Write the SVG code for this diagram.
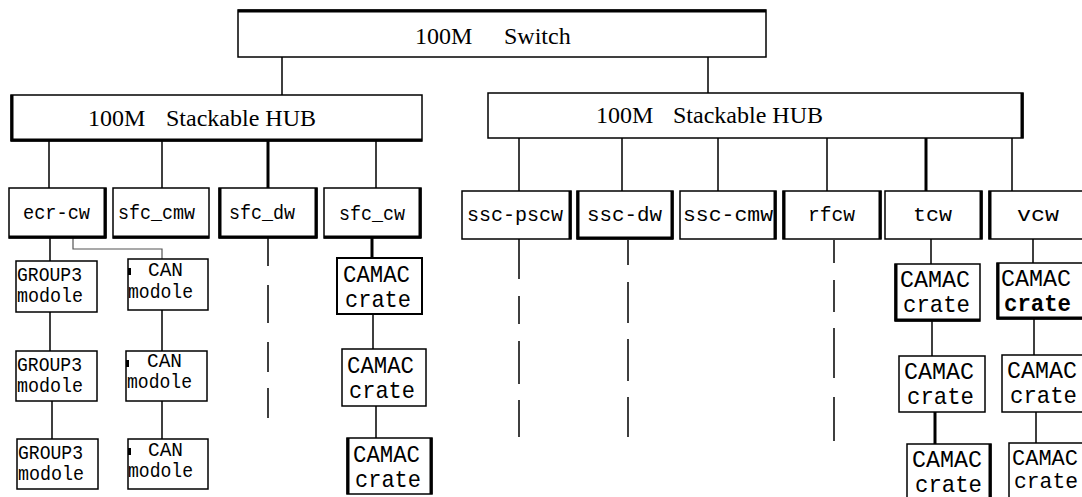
<svg xmlns="http://www.w3.org/2000/svg" width="1082" height="497" viewBox="0 0 1082 497">
  <style>
    .box{fill:#fff;stroke:#000;stroke-width:1.5}
    .boxb{fill:#fff;stroke:#000;stroke-width:2}
    .edge{fill:none;stroke:#000;stroke-width:3}
    .ln{fill:none;stroke:#000;stroke-width:1.5}
    .lnb{fill:none;stroke:#000;stroke-width:3}
    .lng{fill:none;stroke:#555;stroke-width:1.2}
    .serif{font-family:"Liberation Serif","Times New Roman",serif;font-size:24px;fill:#000}
    .mono{font-family:"Liberation Mono","Courier New",monospace;font-size:21px;fill:#000}
    .crate{font-family:"Liberation Mono","Courier New",monospace;font-size:24px;fill:#000}
    .crate-sm{font-family:"Liberation Mono","Courier New",monospace;font-size:22px;fill:#000}
  </style>

  <!-- wiring between devices -->
  <g id="connectors">
    <path class="ln" d="M282,57 V95 M708,55 V93"/>
    <path class="ln" d="M49,141 V188 M162,141 V188 M376,141 V188"/>
    <path class="lnb" d="M268,141 V188"/>
    <path class="ln" d="M519,138 V191 M622,138 V191 M718,138 V191 M827,138 V191 M1012,138 V191"/>
    <path class="lnb" d="M926,138 V191"/>
    <!-- ecr-cw chains -->
    <path class="ln" d="M50,238 V261 M50,312 V351 M52,401 V439"/>
    <path class="lng" d="M73,238 V249 H162 V259"/>
    <path class="ln" d="M162,310 V351 M162,401 V439"/>
    <!-- sfc_dw (dashed) -->
    <path class="ln" d="M268,238 V266 M268,285 V323 M268,342 V372 M268,388 V418"/>
    <!-- sfc_cw crates -->
    <path class="lnb" d="M372,238 V258"/>
    <path class="ln" d="M373,314 V349 M376,406 V438"/>
    <!-- right side dashed drops -->
    <path class="ln" d="M519,239 V279 M519,296 V324 M519,341 V384 M519,400 V437"/>
    <path class="ln" d="M628,240 V265 M628,282 V323 M628,339 V381 M628,397 V437"/>
    <path class="ln" d="M834,240 V263 M834,280 V312 M834,328 V378 M834,397 V441"/>
    <!-- tcw / vcw crates -->
    <path class="ln" d="M931,239 V264 M932,321 V356"/>
    <path class="lnb" d="M935,412 V444"/>
    <path class="ln" d="M1033,239 V263 M1034,319 V355 M1036,412 V443"/>
  </g>

  <!-- core switch -->
  <g id="switch">
    <rect class="box" x="238" y="10" width="528" height="47"/>
    <path class="edge" d="M238,11 H766"/>
    <text class="serif" y="44"><tspan x="415">100M</tspan> <tspan x="504">Switch</tspan></text>
  </g>

  <!-- stackable hubs -->
  <g id="hub-left">
    <rect class="box" x="11" y="95" width="411" height="46"/>
    <path class="edge" d="M12,95 V141 M11,140 H422"/>
    <text class="serif" y="126"><tspan x="88">100M</tspan> <tspan x="166">Stackable HUB</tspan></text>
  </g>
  <g id="hub-right">
    <rect class="box" x="488" y="93" width="535" height="45"/>
    <path class="edge" d="M1022,93 V138"/>
    <text class="serif" y="123"><tspan x="596">100M</tspan> <tspan x="673">Stackable HUB</tspan></text>
  </g>

  <!-- workstations, left hub -->
  <g id="ecr-cw">
    <rect class="box" x="9" y="188" width="97" height="50"/>
    <path class="edge" d="M105,188 V238 M9,237 H106"/>
    <text class="mono" x="23" y="219" textLength="67" lengthAdjust="spacingAndGlyphs">ecr-cw</text>
  </g>
  <g id="sfc_cmw">
    <rect class="box" x="113" y="188" width="96" height="50"/>
    <path class="edge" d="M113,237 H209"/>
    <text class="mono" x="118" y="219" textLength="77" lengthAdjust="spacingAndGlyphs">sfc_cmw</text>
  </g>
  <g id="sfc_dw">
    <rect class="box" x="219" y="188" width="98" height="50"/>
    <path class="edge" d="M220,188 V238 M316,188 V238 M219,237 H317"/>
    <text class="mono" x="229" y="219" textLength="66" lengthAdjust="spacingAndGlyphs">sfc_dw</text>
  </g>
  <g id="sfc_cw">
    <rect class="box" x="324" y="188" width="97" height="50"/>
    <path class="edge" d="M420,188 V238 M324,237 H421"/>
    <text class="mono" x="339" y="220" textLength="66" lengthAdjust="spacingAndGlyphs">sfc_cw</text>
  </g>

  <!-- workstations, right hub -->
  <g id="ssc-pscw">
    <rect class="box" x="462" y="191" width="109" height="48"/>
    <path class="edge" d="M570,191 V239"/>
    <text class="mono" x="467" y="221" textLength="96" lengthAdjust="spacingAndGlyphs">ssc-pscw</text>
  </g>
  <g id="ssc-dw">
    <rect class="box" x="577" y="191" width="96" height="48"/>
    <path class="edge" d="M578,191 V239 M672,191 V239 M577,238 H673"/>
    <text class="mono" x="587" y="221" textLength="75" lengthAdjust="spacingAndGlyphs">ssc-dw</text>
  </g>
  <g id="ssc-cmw">
    <rect class="box" x="680" y="191" width="96" height="48"/>
    <path class="edge" d="M775,191 V239"/>
    <text class="mono" x="683" y="221" textLength="90" lengthAdjust="spacingAndGlyphs">ssc-cmw</text>
  </g>
  <g id="rfcw">
    <rect class="box" x="783" y="191" width="98" height="48"/>
    <path class="edge" d="M784,191 V239 M880,191 V239"/>
    <text class="mono" x="808" y="221" textLength="47" lengthAdjust="spacingAndGlyphs">rfcw</text>
  </g>
  <g id="tcw">
    <rect class="box" x="885" y="191" width="97" height="48"/>
    <path class="edge" d="M981,191 V239"/>
    <text class="mono" x="913" y="221" textLength="39" lengthAdjust="spacingAndGlyphs">tcw</text>
  </g>
  <g id="vcw">
    <rect class="box" x="989" y="191" width="100" height="48"/>
    <path class="edge" d="M990,191 V239"/>
    <text class="mono" x="1017" y="221" textLength="42" lengthAdjust="spacingAndGlyphs">vcw</text>
  </g>

  <!-- GROUP3 modules under ecr-cw -->
  <g id="group3-1">
    <rect class="box" x="16" y="261" width="81" height="51"/>
    <text class="mono" x="17" y="281" textLength="65" lengthAdjust="spacingAndGlyphs">GROUP3</text>
    <text class="mono" x="17" y="302" textLength="66" lengthAdjust="spacingAndGlyphs">modole</text>
  </g>
  <g id="group3-2">
    <rect class="box" x="16" y="351" width="81" height="50"/>
    <text class="mono" x="17" y="371" textLength="65" lengthAdjust="spacingAndGlyphs">GROUP3</text>
    <text class="mono" x="17" y="392" textLength="66" lengthAdjust="spacingAndGlyphs">modole</text>
  </g>
  <g id="group3-3">
    <rect class="box" x="17" y="439" width="81" height="50"/>
    <text class="mono" x="18" y="459" textLength="65" lengthAdjust="spacingAndGlyphs">GROUP3</text>
    <text class="mono" x="18" y="480" textLength="66" lengthAdjust="spacingAndGlyphs">modole</text>
  </g>

  <!-- CAN modules -->
  <g id="can-1">
    <rect class="box" x="128" y="259" width="80" height="51"/>
    <rect x="128" y="268" width="3" height="7" fill="#000"/>
    <text class="mono" x="148" y="276" textLength="35" lengthAdjust="spacingAndGlyphs">CAN</text>
    <text class="mono" x="128" y="298" textLength="65" lengthAdjust="spacingAndGlyphs">modole</text>
  </g>
  <g id="can-2">
    <rect class="box" x="126" y="351" width="81" height="50"/>
    <rect x="126" y="360" width="3" height="7" fill="#000"/>
    <text class="mono" x="147" y="367" textLength="35" lengthAdjust="spacingAndGlyphs">CAN</text>
    <text class="mono" x="127" y="388" textLength="65" lengthAdjust="spacingAndGlyphs">modole</text>
  </g>
  <g id="can-3">
    <rect class="box" x="128" y="439" width="80" height="50"/>
    <rect x="128" y="448" width="3" height="7" fill="#000"/>
    <text class="mono" x="148" y="456" textLength="35" lengthAdjust="spacingAndGlyphs">CAN</text>
    <text class="mono" x="128" y="477" textLength="65" lengthAdjust="spacingAndGlyphs">modole</text>
  </g>

  <!-- CAMAC crates under sfc_cw -->
  <g id="sfc-crate-1">
    <rect class="boxb" x="337" y="258" width="85" height="56"/>
    <text class="crate" x="343" y="282" textLength="67" lengthAdjust="spacingAndGlyphs">CAMAC</text>
    <text class="crate" x="345" y="307" textLength="66" lengthAdjust="spacingAndGlyphs">crate</text>
  </g>
  <g id="sfc-crate-2">
    <rect class="box" x="342" y="349" width="84" height="57"/>
    <text class="crate" x="347" y="373" textLength="67" lengthAdjust="spacingAndGlyphs">CAMAC</text>
    <text class="crate" x="349" y="398" textLength="66" lengthAdjust="spacingAndGlyphs">crate</text>
  </g>
  <g id="sfc-crate-3">
    <rect class="box" x="347" y="438" width="85" height="56"/>
    <path class="edge" d="M348,438 V494 M431,438 V494"/>
    <text class="crate" x="353" y="462" textLength="67" lengthAdjust="spacingAndGlyphs">CAMAC</text>
    <text class="crate" x="355" y="487" textLength="66" lengthAdjust="spacingAndGlyphs">crate</text>
  </g>

  <!-- CAMAC crates under tcw -->
  <g id="tcw-crate-1">
    <rect class="box" x="895" y="264" width="85" height="57"/>
    <path class="edge" d="M896,264 V321 M895,320 H980"/>
    <text class="crate" x="900" y="287" textLength="70" lengthAdjust="spacingAndGlyphs">CAMAC</text>
    <text class="crate" x="903" y="312" textLength="67" lengthAdjust="spacingAndGlyphs">crate</text>
  </g>
  <g id="tcw-crate-2">
    <rect class="box" x="899" y="356" width="86" height="56"/>
    <text class="crate" x="904" y="379" textLength="70" lengthAdjust="spacingAndGlyphs">CAMAC</text>
    <text class="crate" x="907" y="404" textLength="67" lengthAdjust="spacingAndGlyphs">crate</text>
  </g>
  <g id="tcw-crate-3">
    <rect class="box" x="907" y="444" width="84" height="60"/>
    <path class="edge" d="M990,444 V497"/>
    <text class="crate" x="912" y="467" textLength="70" lengthAdjust="spacingAndGlyphs">CAMAC</text>
    <text class="crate" x="915" y="492" textLength="67" lengthAdjust="spacingAndGlyphs">crate</text>
  </g>

  <!-- CAMAC crates under vcw -->
  <g id="vcw-crate-1">
    <rect class="box" x="997" y="263" width="95" height="56"/>
    <path class="edge" d="M998,263 V319 M997,318 H1082"/>
    <text class="crate" x="1001" y="286" textLength="70" lengthAdjust="spacingAndGlyphs">CAMAC</text>
    <text class="crate" x="1004" y="311" textLength="67" lengthAdjust="spacingAndGlyphs" font-weight="bold">crate</text>
  </g>
  <g id="vcw-crate-2">
    <rect class="box" x="1002" y="355" width="95" height="57"/>
    <text class="crate" x="1007" y="378" textLength="70" lengthAdjust="spacingAndGlyphs">CAMAC</text>
    <text class="crate" x="1010" y="403" textLength="67" lengthAdjust="spacingAndGlyphs">crate</text>
  </g>
  <g id="vcw-crate-3">
    <rect class="box" x="1009" y="443" width="95" height="60"/>
    <text class="crate-sm" x="1012" y="465" textLength="66" lengthAdjust="spacingAndGlyphs">CAMAC</text>
    <text class="crate-sm" x="1014" y="488" textLength="64" lengthAdjust="spacingAndGlyphs">crate</text>
  </g>
</svg>
